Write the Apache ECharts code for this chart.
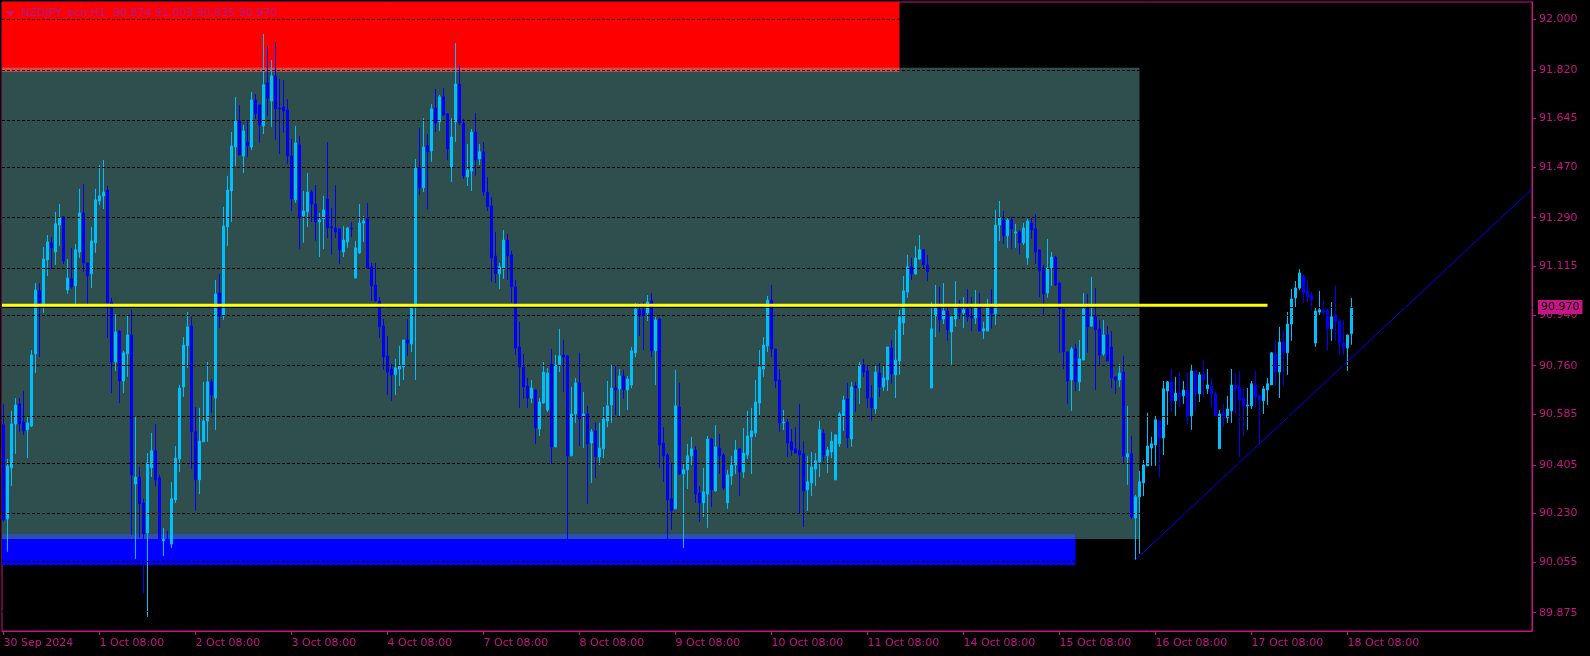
<!DOCTYPE html>
<html><head><meta charset="utf-8">
<script src="https://cdn.jsdelivr.net/npm/echarts@6.0.0/dist/echarts.min.js"></script>
<style>html,body{margin:0;padding:0;background:#000;}#c{width:1590px;height:656px;}</style>
</head><body><div id="c"></div>
<script>
const symbolName = 'NZDJPY_ecn,H1';
const timeLabels = ['30 Sep 2024','1 Oct 08:00','2 Oct 08:00','3 Oct 08:00','4 Oct 08:00','7 Oct 08:00','8 Oct 08:00','9 Oct 08:00','10 Oct 08:00','11 Oct 08:00','14 Oct 08:00','15 Oct 08:00','16 Oct 08:00','17 Oct 08:00','18 Oct 08:00'];
const labelStep = 24; // bars between time labels
const priceTicks = [92.000, 91.820, 91.645, 91.470, 91.290, 91.115, 90.940, 90.760, 90.585, 90.405, 90.230, 90.055, 89.875];

const O = [
90.548,90.211,90.394,90.551,90.623,90.558,90.530,90.544,90.802,91.028,
90.981,91.139,91.200,91.167,91.264,91.293,91.031,91.071,91.046,91.167,
91.307,91.128,91.089,91.200,91.350,91.368,91.389,90.988,90.773,90.884,
90.705,90.802,90.870,90.336,90.361,90.268,90.161,90.394,90.455,90.358,
90.132,90.139,90.121,90.279,90.426,90.684,90.831,90.902,90.523,90.351,
90.487,90.562,90.702,90.644,91.020,90.938,91.257,91.386,91.543,91.637,
91.511,91.561,91.543,91.712,91.694,91.619,91.773,91.708,91.798,91.683,
91.687,91.676,91.511,91.354,91.551,91.296,91.311,91.382,91.339,91.275,
91.286,91.357,91.257,91.253,91.250,91.167,91.203,91.253,91.074,91.164,
91.271,91.286,91.114,91.049,90.992,90.902,90.795,90.748,90.727,90.748,
90.755,90.852,90.838,90.967,91.468,91.397,91.547,91.529,91.683,91.633,
91.723,91.662,91.472,91.633,91.769,91.629,91.436,91.457,91.597,91.500,
91.526,91.382,91.332,91.153,91.089,91.106,91.210,91.157,91.042,90.827,
90.755,90.687,90.644,90.673,90.533,90.626,90.601,90.766,90.469,90.763,
90.798,90.795,90.437,90.587,90.698,90.580,90.587,90.483,90.526,90.433,
90.462,90.562,90.619,90.680,90.677,90.723,90.673,90.691,90.806,90.960,
90.960,90.949,90.992,90.813,90.927,90.483,90.440,90.283,90.247,90.612,
90.372,90.387,90.437,90.458,90.304,90.268,90.300,90.497,90.311,90.465,
90.440,90.268,90.365,90.404,90.462,90.379,90.440,90.505,90.519,90.626,
90.748,90.831,90.995,90.820,90.709,90.555,90.558,90.487,90.462,90.455,
90.444,90.315,90.340,90.390,90.415,90.519,90.437,90.451,90.351,90.480,
90.580,90.641,90.497,90.687,90.680,90.763,90.741,90.644,90.605,90.734,
90.684,90.709,90.823,90.727,90.777,90.913,91.024,91.114,91.089,91.142,
91.175,91.121,90.680,90.938,90.967,90.927,90.956,90.881,90.927,90.963,
90.949,90.963,90.938,90.931,90.967,90.884,90.884,90.970,90.945,91.264,
91.282,91.225,91.282,91.235,91.239,91.200,91.146,91.271,91.250,91.175,
91.103,91.020,91.110,91.149,91.056,90.963,90.809,90.709,90.820,90.702,
90.780,90.967,90.902,90.935,90.892,90.802,90.870,90.827,90.720,90.709,
90.737,90.433,90.444,90.214,90.290,90.340,90.401,90.465,90.476,90.562,
90.501,90.669,90.702,90.634,90.662,90.652,90.673,90.580,90.741,90.659,
90.730,90.677,90.687,90.659,90.462,90.591,90.573,90.598,90.691,90.684,
90.644,90.616,90.616,90.691,90.652,90.634,90.673,90.691,90.802,90.737,
90.845,90.806,90.909,91.003,91.038,91.081,91.028,91.010,90.841,90.952,
90.960,90.960,90.892,90.942,90.920,90.841,90.823,90.874];

const C = [
90.207,90.401,90.551,90.619,90.551,90.526,90.555,90.798,91.031,90.985,
91.142,91.203,91.182,91.268,91.289,91.135,91.074,91.042,91.175,91.307,
91.128,91.081,91.207,91.354,91.368,91.382,90.985,90.773,90.881,90.705,
90.806,90.870,90.369,90.361,90.265,90.157,90.412,90.455,90.351,90.139,
90.139,90.136,90.283,90.429,90.680,90.834,90.899,90.523,90.351,90.490,
90.562,90.702,90.655,91.017,90.938,91.260,91.389,91.547,91.637,91.515,
91.601,91.547,91.712,91.662,91.622,91.766,91.719,91.798,91.680,91.680,
91.672,91.511,91.357,91.558,91.289,91.314,91.382,91.339,91.275,91.282,
91.318,91.253,91.253,91.239,91.175,91.210,91.253,91.250,91.182,91.271,
91.278,91.110,91.046,90.992,90.899,90.791,90.737,90.727,90.752,90.759,
90.852,90.841,90.967,91.468,91.397,91.543,91.526,91.680,91.629,91.723,
91.658,91.536,91.579,91.769,91.629,91.440,91.461,91.597,91.497,91.526,
91.382,91.329,91.146,91.089,91.114,91.210,91.153,91.042,90.823,90.755,
90.684,90.644,90.680,90.537,90.630,90.737,90.734,90.469,90.763,90.795,
90.791,90.437,90.587,90.698,90.569,90.587,90.480,90.523,90.433,90.465,
90.569,90.616,90.680,90.673,90.723,90.673,90.712,90.813,90.963,90.938,
90.942,90.988,90.813,90.924,90.476,90.437,90.279,90.240,90.616,90.372,
90.387,90.437,90.462,90.300,90.268,90.308,90.497,90.315,90.469,90.437,
90.322,90.369,90.404,90.458,90.379,90.447,90.508,90.526,90.630,90.755,
90.834,90.995,90.820,90.705,90.555,90.558,90.483,90.458,90.447,90.440,
90.311,90.344,90.397,90.419,90.530,90.440,90.458,90.490,90.512,90.587,
90.637,90.501,90.684,90.680,90.763,90.737,90.644,90.609,90.737,90.684,
90.716,90.827,90.730,90.780,90.935,91.028,91.114,91.089,91.146,91.175,
91.121,91.096,90.892,90.967,90.924,90.956,90.888,90.935,90.967,90.949,
90.960,90.935,90.931,90.967,90.884,90.892,90.970,90.949,91.264,91.289,
91.225,91.282,91.250,91.239,91.200,91.253,91.278,91.246,91.167,91.099,
91.017,91.110,91.149,91.049,90.963,90.809,90.705,90.820,90.702,90.784,
90.963,90.899,90.935,90.888,90.798,90.870,90.777,90.716,90.709,90.734,
90.437,90.444,90.218,90.290,90.344,90.404,90.472,90.480,90.566,90.501,
90.677,90.702,90.634,90.662,90.648,90.673,90.576,90.741,90.659,90.727,
90.709,90.691,90.659,90.580,90.587,90.573,90.605,90.691,90.677,90.637,
90.616,90.619,90.695,90.648,90.637,90.677,90.695,90.806,90.737,90.845,
90.806,90.909,90.999,91.038,91.092,91.020,91.006,90.995,90.956,90.960,
90.952,90.892,90.935,90.920,90.841,90.823,90.870,90.970];

const H = [
90.623,90.426,90.598,90.644,90.644,90.669,90.580,90.816,91.056,91.056,
91.185,91.228,91.221,91.311,91.339,91.293,91.142,91.182,91.196,91.393,
91.411,91.128,91.257,91.393,91.479,91.497,91.404,91.003,90.945,90.888,
90.813,90.942,90.960,90.576,90.397,90.283,90.447,90.519,90.551,90.369,
90.179,90.168,90.343,90.472,90.691,90.863,90.952,90.935,90.612,90.609,
90.702,90.773,90.712,91.067,91.089,91.329,91.440,91.597,91.723,91.694,
91.622,91.637,91.740,91.733,91.694,91.948,91.905,91.855,91.920,91.787,
91.783,91.715,91.572,91.619,91.583,91.386,91.450,91.389,91.407,91.307,
91.368,91.561,91.325,91.407,91.250,91.260,91.257,91.275,91.207,91.339,
91.296,91.343,91.128,91.128,91.006,90.927,90.866,90.766,90.784,90.831,
90.852,90.927,90.970,91.500,91.612,91.647,91.590,91.697,91.751,91.730,
91.755,91.665,91.647,91.916,91.837,91.644,91.554,91.608,91.665,91.554,
91.561,91.436,91.364,91.239,91.128,91.246,91.232,91.171,91.067,90.917,
90.802,90.716,90.709,90.673,90.644,90.773,90.752,90.820,90.798,90.892,
90.852,90.798,90.684,90.716,90.806,90.666,90.616,90.533,90.558,90.555,
90.612,90.705,90.763,90.759,90.748,90.745,90.723,90.827,90.985,90.985,
90.988,91.013,91.020,90.935,90.931,90.540,90.447,90.412,90.745,90.698,
90.412,90.480,90.505,90.472,90.329,90.394,90.508,90.501,90.548,90.515,
90.447,90.387,90.437,90.494,90.462,90.537,90.598,90.609,90.709,90.816,
90.863,91.010,91.049,90.820,90.748,90.601,90.569,90.533,90.540,90.623,
90.490,90.437,90.451,90.447,90.562,90.533,90.469,90.523,90.515,90.594,
90.652,90.698,90.702,90.702,90.773,90.784,90.759,90.691,90.759,90.770,
90.763,90.827,90.852,90.888,90.960,91.081,91.157,91.146,91.189,91.228,
91.178,91.157,90.988,91.049,91.042,91.056,90.967,90.935,91.063,90.995,
91.006,91.035,91.006,91.031,91.020,90.917,90.999,91.035,91.318,91.350,
91.314,91.289,91.293,91.268,91.246,91.271,91.286,91.289,91.303,91.175,
91.121,91.214,91.167,91.153,91.060,90.963,90.809,90.827,90.838,90.852,
91.020,91.017,91.078,91.038,90.924,90.924,90.902,90.884,90.720,90.766,
90.795,90.616,90.508,90.297,90.383,90.422,90.591,90.505,90.580,90.562,
90.705,90.705,90.748,90.720,90.737,90.705,90.737,90.763,90.741,90.737,
90.780,90.748,90.716,90.666,90.601,90.623,90.652,90.748,90.734,90.741,
90.677,90.680,90.705,90.741,90.655,90.687,90.716,90.809,90.852,90.899,
90.888,90.952,91.035,91.063,91.106,91.085,91.067,91.024,90.970,91.028,
90.992,90.960,90.988,91.046,90.927,90.924,90.870,91.003];

const L = [
90.200,90.093,90.329,90.444,90.523,90.512,90.429,90.540,90.734,90.791,
90.949,91.081,91.106,91.121,91.189,91.124,91.017,91.035,90.981,91.146,
91.096,90.981,91.038,91.164,91.336,91.321,90.859,90.662,90.741,90.626,
90.662,90.720,90.154,90.068,90.143,89.946,89.860,90.361,90.326,90.139,
90.078,90.129,90.107,90.268,90.379,90.648,90.752,90.390,90.240,90.300,
90.487,90.487,90.591,90.530,90.895,90.924,91.189,91.275,91.475,91.515,
91.450,91.508,91.533,91.644,91.558,91.590,91.654,91.615,91.569,91.518,
91.594,91.483,91.314,91.343,91.178,91.200,91.257,91.275,91.207,91.149,
91.178,91.217,91.157,91.217,91.124,91.149,91.182,91.221,91.074,91.160,
91.203,91.106,90.992,90.988,90.859,90.745,90.655,90.634,90.655,90.687,
90.709,90.795,90.809,90.709,91.372,91.382,91.321,91.490,91.597,91.601,
91.654,91.497,91.418,91.561,91.622,91.429,91.404,91.386,91.440,91.479,
91.368,91.314,91.060,91.056,91.035,91.071,91.067,90.985,90.798,90.609,
90.641,90.609,90.626,90.480,90.508,90.623,90.594,90.408,90.469,90.737,
90.666,90.139,90.437,90.555,90.472,90.465,90.265,90.340,90.358,90.404,
90.429,90.540,90.555,90.583,90.576,90.641,90.601,90.680,90.791,90.866,
90.816,90.920,90.791,90.691,90.394,90.343,90.139,90.172,90.247,90.369,
90.107,90.318,90.404,90.268,90.200,90.218,90.179,90.254,90.308,90.372,
90.315,90.247,90.333,90.372,90.293,90.358,90.426,90.372,90.505,90.583,
90.720,90.809,90.791,90.680,90.523,90.530,90.433,90.437,90.447,90.229,
90.182,90.240,90.293,90.329,90.361,90.419,90.376,90.429,90.351,90.469,
90.526,90.465,90.469,90.594,90.623,90.720,90.609,90.562,90.587,90.648,
90.669,90.669,90.695,90.644,90.727,90.870,91.003,91.067,91.085,91.139,
91.110,91.063,90.680,90.863,90.881,90.909,90.849,90.763,90.899,90.927,
90.895,90.917,90.884,90.909,90.884,90.856,90.884,90.892,90.906,91.207,
91.196,91.182,91.178,91.182,91.157,91.192,91.121,91.214,91.124,91.006,
90.942,91.003,91.046,91.046,90.806,90.748,90.623,90.598,90.669,90.669,
90.780,90.806,90.899,90.673,90.763,90.795,90.777,90.680,90.659,90.684,
90.408,90.333,90.211,90.064,90.086,90.293,90.401,90.401,90.401,90.361,
90.440,90.548,90.594,90.580,90.612,90.623,90.551,90.530,90.598,90.630,
90.648,90.659,90.612,90.580,90.462,90.540,90.555,90.555,90.587,90.433,
90.508,90.530,90.605,90.612,90.480,90.587,90.619,90.691,90.687,90.644,
90.687,90.727,90.849,90.967,91.031,90.985,90.988,90.960,90.827,90.942,
90.934,90.813,90.849,90.852,90.798,90.798,90.741,90.835];

// horizontal levels & objects (bar index / price)
const levelPrice = 90.976;      // yellow horizontal line
const levelEndBar = 316;
const bidPrice = 90.970;
const X_MIN = -0.375, X_MAX = 382.125;
const Y_MIN = 89.8095, Y_MAX = 92.0627;
const trendPoints = [[283, 90.065], [382.125, 91.393]];
const zoneTeal   = {from: X_MIN, to: 284, top: 91.827, bottom: 90.139, color: '#2F4F4F'};
const zoneSupply = {from: X_MIN, to: 224, top: Y_MAX,  bottom: 91.813, color: '#FF0000'};
const zoneDemand = {from: X_MIN, to: 268, top: 90.157, bottom: 90.046, color: '#0000FF'};

const MAG = '#C71585';
const FONT = 'DejaVu Sans';

function xorColor(a, b) {
  const pa = parseInt(a.slice(1), 16), pb = parseInt(b.slice(1), 16);
  return '#' + ((pa ^ pb) & 0xFFFFFF).toString(16).padStart(6, '0');
}
const zones = [zoneTeal, zoneSupply, zoneDemand];
const rects = zones.map(z => ({...z}));
for (let i = 0; i < zones.length; i++) for (let j = i + 1; j < zones.length; j++) {
  const a = zones[i], b = zones[j];
  const f = Math.max(a.from, b.from), t = Math.min(a.to, b.to);
  const bo = Math.max(a.bottom, b.bottom), tp = Math.min(a.top, b.top);
  if (t > f && tp > bo) rects.push({from: f, to: t, top: tp, bottom: bo, color: xorColor(a.color, b.color)});
}

const candleData = O.map((o, i) => [i, o, C[i], L[i], H[i]]);
const last = O.length - 1;
const tickIdx = timeLabels.map((_, k) => k * labelStep);

const chart = echarts.init(document.getElementById('c'), null, {renderer: 'canvas'});
chart.setOption({
  animation: false,
  backgroundColor: '#000',
  grid: {left: 2, top: 2, width: 1530, height: 629, show: true, borderColor: MAG, borderWidth: 1, backgroundColor: '#000'},
  xAxis: {
    type: 'value', min: X_MIN, max: X_MAX,
    splitLine: {show: false},
    axisLine: {show: true, onZero: false, lineStyle: {color: MAG}},
    axisTick: {show: true, customValues: tickIdx, length: 4, lineStyle: {color: MAG}},
    axisLabel: {customValues: tickIdx, formatter: v => timeLabels[Math.round(v / labelStep)] || '',
      color: MAG, fontFamily: FONT, fontSize: 11, align: 'left', margin: 7}
  },
  yAxis: {
    type: 'value', position: 'right', min: Y_MIN, max: Y_MAX, scale: true,
    splitLine: {show: false},
    axisLine: {show: true, onZero: false, lineStyle: {color: MAG}},
    axisTick: {show: true, customValues: priceTicks, length: 4, lineStyle: {color: MAG}},
    axisLabel: {customValues: priceTicks, formatter: v => v.toFixed(3), color: MAG, fontFamily: FONT, fontSize: 11, margin: 7}
  },
  graphic: [
    {type: 'polygon', shape: {points: [[6, 11], [15, 11], [10.5, 16]]}, style: {fill: MAG}, z: 100},
    {type: 'text', left: 21, top: 8, z: 100, style: {
      text: `${symbolName}  ${O[last].toFixed(3)} ${H[last].toFixed(3)} ${L[last].toFixed(3)} ${C[last].toFixed(3)}`,
      fill: '#A0209A', font: `11px "${FONT}"`}}
  ],
  series: [
    {
      type: 'custom', z: 1, silent: true,
      data: rects.map(r => [r.from, r.to, r.top, r.bottom]),
      renderItem: (params, api) => {
        const p1 = api.coord([api.value(0), api.value(2)]);
        const p2 = api.coord([api.value(1), api.value(3)]);
        const cs = params.coordSys;
        const shape = echarts.graphic.clipRectByRect(
          {x: p1[0], y: p1[1], width: p2[0] - p1[0], height: p2[1] - p1[1]},
          {x: cs.x, y: cs.y, width: cs.width, height: cs.height});
        return shape && {type: 'rect', shape, style: {fill: rects[params.dataIndex].color}};
      }
    },
    {
      type: 'line', z: 2, silent: true, data: [],
      markLine: {silent: true, symbol: ['none', 'none'], label: {show: false},
        lineStyle: {color: '#000', width: 1, type: [3, 2]},
        data: priceTicks.map(v => ({yAxis: v}))}
    },
    {
      type: 'candlestick', z: 3, silent: true, barWidth: 2,
      dimensions: ['x', 'open', 'close', 'lowest', 'highest'],
      encode: {x: 'x', y: ['open', 'close', 'lowest', 'highest']},
      data: candleData,
      itemStyle: {color: '#00BFFF', color0: '#0000FF', borderColor: '#00BFFF', borderColor0: '#0000FF', borderWidth: 1}
    },
    {
      type: 'line', z: 4, silent: true, symbol: 'none',
      data: [[X_MIN, levelPrice], [levelEndBar, levelPrice]],
      lineStyle: {color: '#FFFF00', width: 3}
    },
    {
      type: 'line', z: 4, silent: true, symbol: 'none',
      data: trendPoints,
      lineStyle: {color: '#0000FF', width: 1}
    },
    {
      type: 'line', z: 5, silent: true, data: [],
      markLine: {silent: true, symbol: ['none', 'none'],
        lineStyle: {color: '#000', width: 1, type: 'solid'},
        label: {show: true, position: 'end', distance: 6, formatter: bidPrice.toFixed(3),
          backgroundColor: MAG, color: '#000', padding: [2, 3, 1, 3], fontFamily: FONT, fontSize: 11},
        data: [{yAxis: bidPrice}]}
    }
  ]
});
</script>
</body></html>
